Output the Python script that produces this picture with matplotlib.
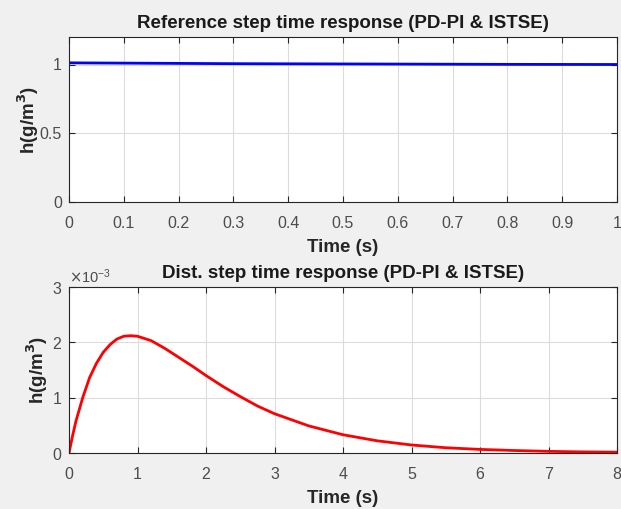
import numpy as np
import matplotlib.pyplot as plt
from matplotlib.ticker import ScalarFormatter

# Reference step response
t_ref = [0.0, 0.1, 0.2, 0.3, 0.4, 0.5, 0.6, 0.7, 0.8, 0.9, 1.0]
h_ref = [1.012, 1.010, 1.008, 1.006, 1.005, 1.004, 1.003, 1.002, 1.001, 1.0005, 1.0]

# Disturbance step response
t_dist = [0.0, 0.05, 0.1, 0.2, 0.3, 0.4, 0.5, 0.6, 0.7, 0.8, 0.9, 1.0, 1.2, 1.4, 1.6,
          1.8, 2.0, 2.25, 2.5, 2.75, 3.0, 3.5, 4.0, 4.5, 5.0, 5.5, 6.0, 6.5, 7.0, 7.5, 8.0]
h_dist = [0.0, 0.30, 0.57, 1.00, 1.36, 1.62, 1.82, 1.96, 2.06, 2.11, 2.12, 2.11, 2.03,
          1.89, 1.73, 1.57, 1.40, 1.20, 1.02, 0.85, 0.71, 0.49, 0.33, 0.22, 0.145,
          0.095, 0.065, 0.045, 0.03, 0.02, 0.015]
h_dist = [v * 1e-3 for v in h_dist]

plt.rcParams['font.family'] = ['Liberation Sans', 'DejaVu Sans']

fig = plt.figure(figsize=(6.21, 5.09), dpi=100, facecolor='#f0f0f0')
ax1 = fig.add_axes([69 / 621, 1 - 202 / 509, 548 / 621, 165 / 509])
ax2 = fig.add_axes([69 / 621, 1 - 453 / 509, 548 / 621, 166 / 509])

ax1.plot(t_ref, h_ref, color=(0, 0, 1), linewidth=2)
ax1.set_xlim(0, 1)
ax1.set_ylim(0, 1.2)
ax1.set_xticks(np.arange(0, 1.01, 0.1))
ax1.set_xticklabels(['0', '0.1', '0.2', '0.3', '0.4', '0.5', '0.6', '0.7', '0.8', '0.9', '1'])
ax1.set_yticks([0, 0.5, 1])
ax1.set_yticklabels(['0', '0.5', '1'])
ax1.set_title('Reference step time response (PD-PI & ISTSE)', fontsize=13.5,
              fontweight='bold', pad=6.5, color='#1a1a1a')

ax2.plot(t_dist, h_dist, color=(1, 0, 0), linewidth=2)
ax2.set_xlim(0, 8)
ax2.set_ylim(0, 3e-3)
ax2.set_xticks(range(0, 9))
ax2.set_yticks([0, 1e-3, 2e-3, 3e-3])
fmt = ScalarFormatter(useMathText=True)
fmt.set_powerlimits((0, 0))
ax2.yaxis.set_major_formatter(fmt)
ax2.yaxis.get_offset_text().set_fontsize(10.5)
ax2.yaxis.get_offset_text().set_color('#606060')
ax2.set_title('Dist. step time response (PD-PI & ISTSE)', fontsize=13.5,
              fontweight='bold', pad=6.5, color='#1a1a1a')

for ax in (ax1, ax2):
    ax.set_facecolor('white')
    ax.grid(True, color='#dcdcdc', linewidth=0.8)
    ax.set_axisbelow(True)
    ax.tick_params(direction='in', top=True, right=True, length=4, labelsize=11.5,
                   colors='#262626', labelcolor='#4d4d4d')
    ax.tick_params(axis='x', pad=10)
    ax.tick_params(axis='y', pad=5)
    for s in ax.spines.values():
        s.set_color('#262626')
        s.set_linewidth(0.8)
    ax.set_xlabel('Time (s)', fontsize=13.5, fontweight='bold', labelpad=6, color='#262626')

ax1.set_ylabel('h(g/m$^\\mathbf{3}$)', fontsize=13.5, fontweight='bold', labelpad=-1,
               color='#262626')
ax2.set_ylabel('h(g/m$^\\mathbf{3}$)', fontsize=13.5, fontweight='bold', labelpad=1,
               color='#262626')

fig.savefig('out.png', dpi=100, facecolor=fig.get_facecolor())
